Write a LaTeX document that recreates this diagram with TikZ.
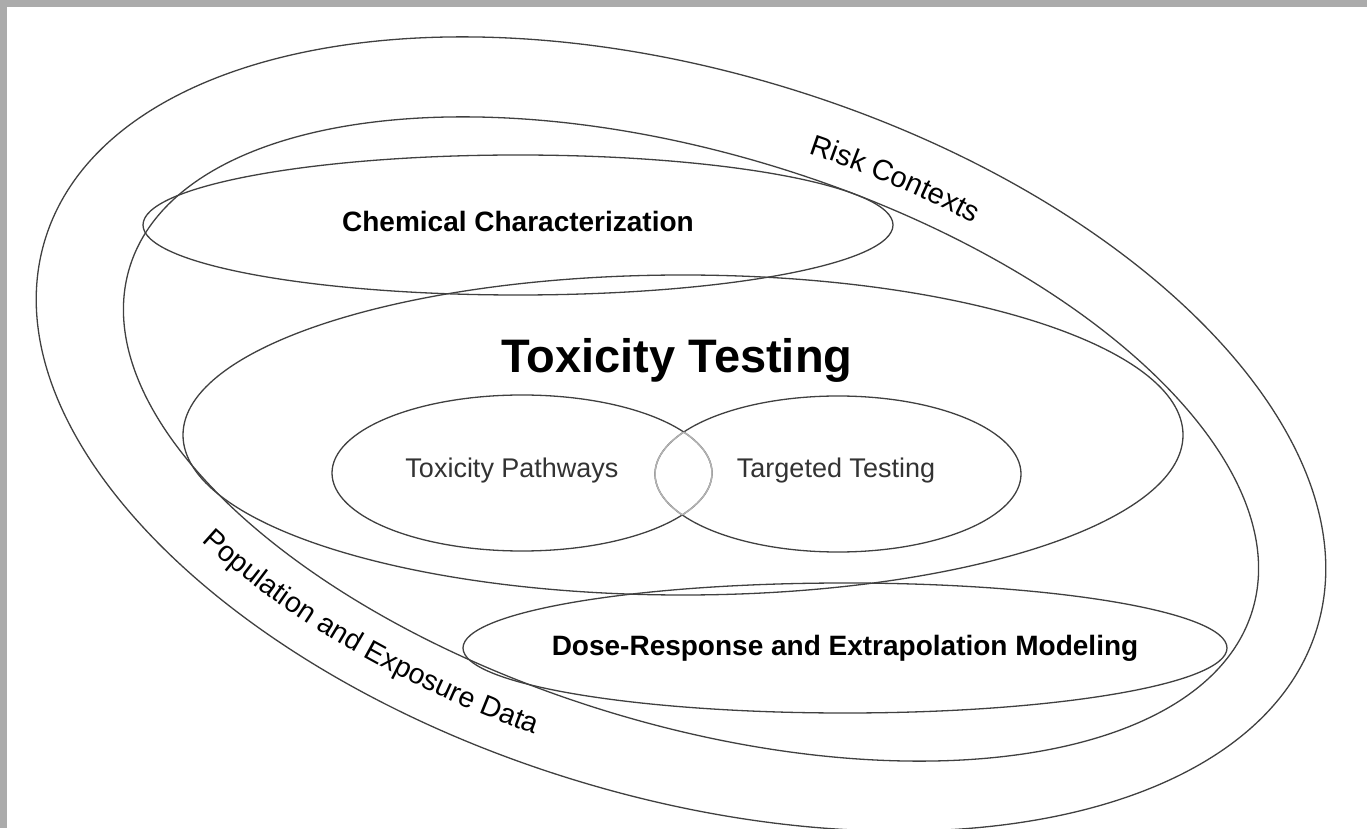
\documentclass[tikz,border=0pt]{standalone}
\usepackage{fontspec}
\setmainfont{Liberation Sans}
\usetikzlibrary{decorations.text}

\begin{document}
\begin{tikzpicture}[x=1pt,y=1pt,
		contorno/.style={draw=black!75, line width=1.3pt},
		cruce/.style={draw=black!30, line width=1.5pt},
		titulo/.style={font=\fontsize{47}{51}\selectfont\bfseries, anchor=base},
		bloque/.style={font=\fontsize{28}{32}\selectfont\bfseries, anchor=base},
		prueba/.style={font=\fontsize{27}{31}\selectfont, anchor=base, text=black!80}]
	
	% Fondo blanco con el marco gris a la izquierda y arriba
	\useasboundingbox (0,0) rectangle (1367,828);
	\fill[white] (0,0) rectangle (1367,828);
	\fill[black!33] (0,0) rectangle (7,828);
	\fill[black!33] (0,821) rectangle (1367,828);
	
	% Elipse exterior (contextos de riesgo)
	\begin{scope}[shift={(681,394)}, rotate=-17]
		\draw[contorno] (0,0) ellipse [x radius=665, y radius=362];
	\end{scope}
	
	% Elipse de datos de poblacion y exposicion, con los textos curvos
	\begin{scope}[shift={(691,389)}, rotate=-17]
		\draw[contorno] (0,0) ellipse [x radius=587, y radius=285];
	\end{scope}
	\begin{scope}[shift={(686,392)}, rotate=-17]
		% Texto superior
		\path[decorate, decoration={text along path, text align=center,
			text={|\fontsize{29}{33}\selectfont|Risk Contexts}}]
			(117:600 and 307) arc [start angle=117, end angle=34, x radius=600, y radius=307];
		% Texto inferior
		\path[decorate, decoration={text along path, text align=center,
			text={|\fontsize{28.5}{33}\selectfont|Population and Exposure Data}}]
			(200:636 and 331) arc [start angle=200, end angle=284, x radius=636, y radius=331];
	\end{scope}
	
	% Caracterizacion quimica (arriba)
	\draw[contorno] (518,603) ellipse [x radius=375, y radius=70];
	\node[bloque] (quimica) at (518,596) {Chemical Characterization};
	
	% Pruebas de toxicidad (centro)
	\draw[contorno] (683,393) ellipse [x radius=500, y radius=160];
	\node[titulo] (pruebas) at (677,455) {Toxicity Testing};
	
	% Vias de toxicidad y pruebas dirigidas
	\draw[contorno] (522,355) ellipse [x radius=190, y radius=78];
	\draw[contorno] (838,354) ellipse [x radius=183, y radius=78];
	\begin{scope}
		\clip (522,355) ellipse [x radius=190, y radius=78];
		\draw[cruce] (838,354) ellipse [x radius=183, y radius=78];
	\end{scope}
	\begin{scope}
		\clip (838,354) ellipse [x radius=183, y radius=78];
		\draw[cruce] (522,355) ellipse [x radius=190, y radius=78];
	\end{scope}
	\node[prueba] (vias) at (512,350) {Toxicity Pathways};
	\node[prueba] (dirigidas) at (836,350) {Targeted Testing};
	
	% Dosis-respuesta y extrapolacion (abajo)
	\draw[contorno] (845,180) ellipse [x radius=382, y radius=65];
	\node[bloque] (dosis) at (845,173) {Dose-Response and Extrapolation Modeling};
	
\end{tikzpicture}
\end{document}
